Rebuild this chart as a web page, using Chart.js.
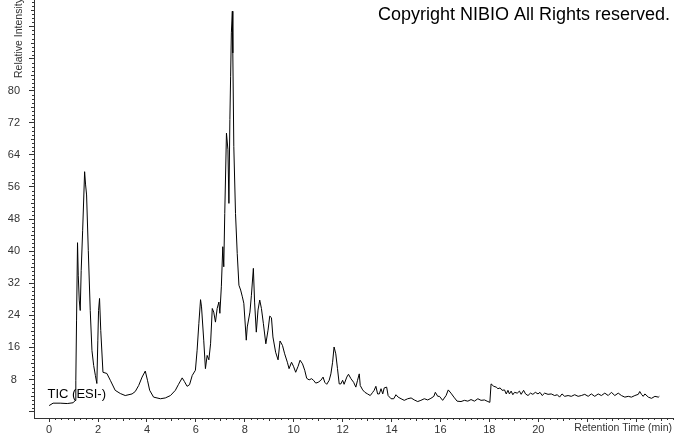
<!DOCTYPE html>
<html>
<head>
<meta charset="utf-8">
<script src="https://cdn.jsdelivr.net/npm/chart.js@4.4.0/dist/chart.umd.min.js"></script>
<style>
  html, body { margin: 0; padding: 0; background: #fff; }
  #wrap { width: 674px; height: 434px; }
</style>
</head>
<body>
<div id="wrap"><canvas id="tic" width="674" height="434"></canvas></div>
<script>
// Retention time (min)
const times = [
  0, 0.16, 0.45, 0.74, 0.98, 1.07, 1.09, 1.12, 1.16, 1.19, 1.23, 1.27, 1.31, 1.37, 1.45, 1.49, 1.53, 1.60, 1.68, 1.75, 1.82, 1.89, 1.95, 1.99, 2.02, 2.06, 2.11, 2.20,
  2.36, 2.50, 2.70, 2.91, 3.11, 3.39, 3.52, 3.66, 3.80, 3.93, 4.02, 4.11, 4.27, 4.55, 4.75, 4.96, 5.16, 5.29, 5.44, 5.53, 5.64, 5.74, 5.85, 5.98,
  6.05, 6.12, 6.19, 6.23, 6.32, 6.39, 6.46, 6.53, 6.60, 6.67, 6.73, 6.80, 6.87, 6.94, 6.98, 7.04, 7.10, 7.14, 7.18, 7.25, 7.31, 7.35, 7.39, 7.42, 7.45, 7.49, 7.51, 7.55, 7.62, 7.69, 7.76, 7.83, 7.90, 7.96,
  8.06, 8.10, 8.21, 8.27, 8.35, 8.40, 8.47, 8.54, 8.61, 8.68, 8.76, 8.86, 8.95, 9.02, 9.09, 9.15, 9.26, 9.36, 9.44, 9.54, 9.63, 9.74, 9.81, 9.91, 9.99,
  10.08, 10.18, 10.26, 10.36, 10.45, 10.53, 10.63, 10.73, 10.81, 10.90, 11.00, 11.11, 11.20, 11.27, 11.35, 11.45, 11.52, 11.59, 11.65, 11.72, 11.79, 11.86, 11.93,
  12.00, 12.06, 12.17, 12.24, 12.34, 12.45, 12.54, 12.61, 12.68, 12.72, 12.82, 12.91, 13.02, 13.13, 13.23, 13.29, 13.36, 13.43, 13.50, 13.57, 13.64, 13.70, 13.80, 13.86, 13.98,
  14.09, 14.18, 14.27, 14.39, 14.52, 14.66, 14.80, 14.93, 15.07, 15.20, 15.34, 15.48, 15.61, 15.73, 15.79, 15.89, 15.96,
  16.09, 16.23, 16.32, 16.43, 16.55, 16.68, 16.84, 16.98, 17.12, 17.25, 17.39, 17.53, 17.66, 17.80, 17.94, 18.02,
  18.07, 18.18, 18.28, 18.35, 18.44, 18.52, 18.62, 18.69, 18.76, 18.82, 18.89, 18.96, 19.03, 19.14, 19.23, 19.30, 19.40, 19.48, 19.58, 19.68, 19.78, 19.88, 19.99,
  20.07, 20.16, 20.26, 20.40, 20.53, 20.67, 20.78, 20.87, 20.97, 21.08, 21.22, 21.35, 21.49, 21.63, 21.76, 21.90, 22.04, 22.17, 22.31, 22.45, 22.58, 22.72, 22.86, 22.99,
  23.13, 23.27, 23.40, 23.54, 23.68, 23.81, 23.95, 24.09, 24.15, 24.22, 24.29, 24.36, 24.50, 24.63, 24.77, 24.91, 24.95
];

// Relative intensity (%) at each time above
const intensity = [
  1.5, 2.1, 2.1, 2.0, 2.2, 2.8, 7.8, 22.8, 42.1, 34, 27.8, 25.2, 35.2, 45.2, 59.8, 56.5, 54, 40.2, 25.2, 15.2, 11.5, 9, 7, 17.8, 25.2, 28.2, 20.2, 9.8,
  9.5, 7.8, 5.3, 4.5, 4, 4.4, 5, 6.5, 8.6, 10.1, 7.8, 5.3, 3.6, 3.2, 3.4, 4, 5.3, 6.8, 8.4, 7.5, 6.3, 6.7, 9, 10.3,
  15.3, 21.9, 27.9, 26.1, 17.8, 10.7, 14, 12.9, 16.9, 25.7, 24.8, 22.3, 25.7, 27.3, 24.5, 31.1, 41.1, 36.1, 49.4, 69.4, 65.3, 51.9, 72.8, 83.6, 94.4, 99.8, 89.4, 66.1, 49.4, 39.4, 31.5, 30.3, 28.6, 27,
  17.8, 21.1, 24.8, 29, 35.7, 27.3, 19.8, 25.3, 27.8, 25.7, 21.9, 16.9, 20.3, 23.8, 23.4, 18.6, 14.8, 12.9, 17.6, 16.5, 14.4, 12.3, 10.7, 12.3, 11.3,
  9.8, 11.3, 12.8, 11.9, 10.3, 8.3, 7.9, 8.2, 7.8, 7.1, 7.3, 7.8, 8.6, 7.3, 6.8, 7.8, 9.4, 12.3, 16.1, 14.4, 10.7, 6.9, 6.9,
  7.8, 6.8, 8.6, 9.3, 8.2, 7.3, 6.1, 7.8, 9.4, 6.5, 5.4, 4.8, 4.4, 4, 4.8, 5.3, 6.3, 4.4, 4.4, 5.7, 4.4, 5.9, 6.1, 4, 3.2,
  3.2, 4.2, 3.6, 3.2, 2.8, 3.2, 3.4, 2.9, 2.5, 2.8, 3.2, 2.9, 3.3, 3.8, 4.8, 3.8, 3.8,
  2.8, 4, 5.4, 4.6, 3.6, 2.6, 2.5, 2.8, 2.6, 3, 2.6, 3.2, 2.8, 2.9, 2.5, 2.3,
  6.9, 6.3, 6.1, 5.7, 5.9, 5.3, 5.4, 4.4, 5.3, 4.4, 5.1, 4.2, 4.8, 4.6, 5.1, 4.3, 5.3, 4.4, 4, 4.6, 4.3, 4.8, 4.4,
  4.8, 4, 4.6, 4.3, 4.4, 4, 4.2, 3.6, 4.4, 3.8, 4, 3.8, 4.2, 3.8, 4, 4.3, 3.8, 4.4, 3.8, 4.4, 4, 4.6, 4, 4.8,
  4, 4.6, 4, 3.6, 3.8, 3.6, 4, 4.3, 5, 4.3, 3.8, 4.4, 3.6, 3.3, 3.8, 3.6, 3.8
];

// Tick labels
const xTickLabels = [0, 2, 4, 6, 8, 10, 12, 14, 16, 18, 20];
const yTickLabels = [8, 16, 24, 32, 40, 48, 56, 64, 72, 80];

// Major tick marks (labels only on the ones above)
const xMajor = [0, 2, 4, 6, 8, 10, 12, 14, 16, 18, 20, 22, 24];
const yMajor = [0, 8, 16, 24, 32, 40, 48, 56, 64, 72, 80, 88, 96];

const axisColor = '#333';
const labelFont = { family: 'Liberation Sans, Arial, sans-serif', size: 11 };

const points = times.map((t, i) => ({ x: t, y: intensity[i] }));

// minor ticks + the loose texts of the chromatogram
const decorations = {
  id: 'decorations',
  afterDraw(chart) {
    const ctx = chart.ctx;
    const xs = chart.scales.x;
    const ys = chart.scales.y;
    const area = chart.chartArea;
    ctx.save();
    ctx.strokeStyle = axisColor;
    ctx.lineWidth = 1;
    ctx.beginPath();
    // x minor ticks every 0.25 min
    for (let v = 0.25; v <= xs.max; v += 0.25) {
      if (Math.abs(v % 2) < 1e-6) continue;
      const px = Math.round(xs.getPixelForValue(v)) + 0.5;
      const len = Math.abs(v % 1) < 1e-6 ? 3 : 2;
      ctx.moveTo(px, area.bottom);
      ctx.lineTo(px, area.bottom + len);
    }
    // y minor ticks every 1 unit
    for (let v = 1; v <= ys.max; v += 1) {
      if (v % 8 === 0) continue;
      const py = Math.round(ys.getPixelForValue(v)) + 0.5;
      const len = v % 4 === 0 ? 3 : 2;
      ctx.moveTo(area.left, py);
      ctx.lineTo(area.left - len, py);
    }
    ctx.stroke();

    ctx.fillStyle = '#333';
    ctx.font = '10.5px "Liberation Sans", Arial, sans-serif';
    ctx.textBaseline = 'middle';
    ctx.textAlign = 'right';
    ctx.fillText('Retention Time (min)', 672, 428);

    ctx.save();
    ctx.translate(19, 78);
    ctx.rotate(-Math.PI / 2);
    ctx.textAlign = 'left';
    ctx.fillText('Relative Intensity', 0, 0);
    ctx.restore();

    ctx.fillStyle = '#000';
    ctx.textAlign = 'left';
    ctx.textBaseline = 'alphabetic';
    ctx.font = '18px "Liberation Sans", Arial, sans-serif';
    ctx.fillText('Copyright NIBIO All Rights reserved.', 378, 20);

    ctx.font = '13px "Liberation Sans", Arial, sans-serif';
    ctx.fillText('TIC (ESI-)', 47.5, 398);
    ctx.restore();
  }
};

new Chart(document.getElementById('tic'), {
  type: 'line',
  data: {
    datasets: [{
      label: 'TIC (ESI-)',
      data: points,
      borderColor: '#000',
      borderWidth: 1,
      pointRadius: 0,
      fill: false,
      tension: 0
    }]
  },
  options: {
    responsive: false,
    animation: false,
    layout: { padding: 0 },
    plugins: {
      legend: { display: false },
      tooltip: { enabled: false }
    },
    scales: {
      x: {
        type: 'linear',
        min: -0.62,
        max: 25.55,
        afterBuildTicks: s => { s.ticks = xMajor.map(v => ({ value: v })); },
        afterFit: s => { s.height = 16; s.paddingLeft = 0; s.paddingRight = 0; },
        ticks: {
          autoSkip: false,
          maxRotation: 0,
          padding: 1,
          color: '#333',
          font: labelFont,
          callback: v => xTickLabels.includes(v) ? String(v) : ''
        },
        grid: { drawOnChartArea: false, tickLength: 4, color: axisColor },
        border: { color: axisColor }
      },
      y: {
        min: -1.6,
        max: 102.6,
        afterBuildTicks: s => { s.ticks = yMajor.map(v => ({ value: v })); },
        afterFit: s => { s.width = 34; s.paddingTop = 0; s.paddingBottom = 0; },
        ticks: {
          autoSkip: false,
          padding: 9,
          color: '#333',
          font: labelFont,
          crossAlign: 'center',
          callback: v => yTickLabels.includes(v) ? String(v) : ''
        },
        grid: { drawOnChartArea: false, tickLength: 5, color: axisColor },
        border: { color: axisColor }
      }
    }
  },
  plugins: [decorations]
});
</script>
</body>
</html>
